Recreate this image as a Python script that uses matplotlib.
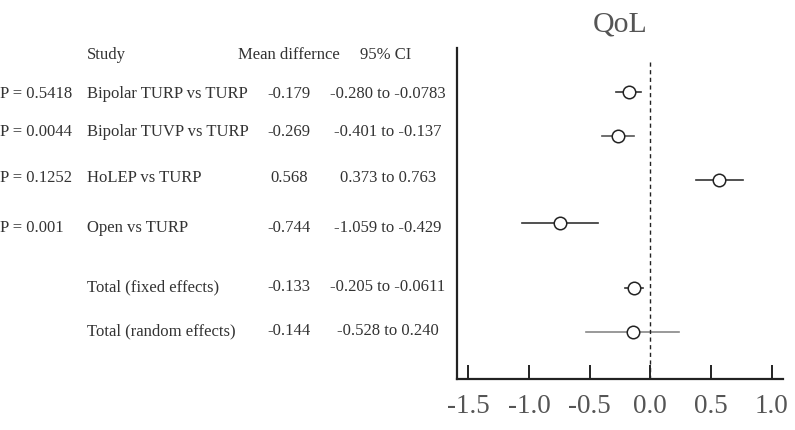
import matplotlib.pyplot as plt
from matplotlib.transforms import blended_transform_factory

# forest plot data
p_values = ["P = 0.5418", "P = 0.0044", "P = 0.1252", "P = 0.001", "", ""]
studies = ["Bipolar TURP vs TURP", "Bipolar TUVP vs TURP", "HoLEP vs TURP",
           "Open vs TURP", "Total (fixed effects)", "Total (random effects)"]
mean_diff = [-0.179, -0.269, 0.568, -0.744, -0.133, -0.144]
ci_low = [-0.280, -0.401, 0.373, -1.059, -0.205, -0.528]
ci_high = [-0.0783, -0.137, 0.763, -0.429, -0.0611, 0.240]
ci_text = ["-0.280 to -0.0783", "-0.401 to -0.137", "0.373 to 0.763",
           "-1.059 to -0.429", "-0.205 to -0.0611", "-0.528 to 0.240"]
mean_text = ["-0.179", "-0.269", "0.568", "-0.744", "-0.133", "-0.144"]
xticks = [-1.5, -1.0, -0.5, 0.0, 0.5, 1.0]

plt.rcParams['font.family'] = ['Liberation Serif', 'DejaVu Serif']
plt.rcParams['axes.unicode_minus'] = False

W, H = 795, 430
fig = plt.figure(figsize=(W / 100, H / 100), dpi=100)
# axes placed in pixel units: left 457, right 783, top 48, bottom 379
ax = fig.add_axes([457 / W, (H - 379) / H, 326 / W, 331 / H])

# vertical layout of the rows (pixels from top)
row_y = [92, 136, 180, 223, 288, 332]
text_y = [94, 132, 178, 228, 287, 331]
line_colors = ['#333333', '#555555', '#333333', '#333333', '#333333', '#888888']

for i in range(len(studies)):
    ax.plot([ci_low[i], ci_high[i]], [row_y[i], row_y[i]], color=line_colors[i], lw=1.2, zorder=2)
    ax.plot(mean_diff[i], row_y[i], 'o', ms=9, mfc='white', mec='#222222', mew=1.1, zorder=3)

ax.vlines(0, 62, 379, colors='#222222', linestyles=(0, (3, 2.5)), lw=1)

ax.set_xlim(-1.593, 1.093)
ax.set_ylim(379, 48)
ax.set_xticks(xticks)
ax.set_xticklabels([f"{t:.1f}" for t in xticks])
ax.set_yticks([])
for s in ['top', 'right']:
    ax.spines[s].set_visible(False)
for s in ['left', 'bottom']:
    ax.spines[s].set_linewidth(1.6)
    ax.spines[s].set_color('#222222')
ax.tick_params(axis='x', direction='in', length=10, width=1.4, pad=11,
               labelsize=19.5, labelcolor='#555555', color='#222222')
ax.set_title("QoL", fontsize=21.5, color='#555555', pad=12)

# table text on the left
tr = blended_transform_factory(fig.transFigure, ax.transData)
txt = dict(fontsize=12, color='#333333', va='center', transform=tr)
ax.text(87 / W, 55, "Study", ha='left', **txt)
ax.text(289 / W, 55, "Mean differnce", ha='center', **txt)
ax.text(386 / W, 55, "95% CI", ha='center', **txt)
for i in range(len(studies)):
    ax.text(0 / W, text_y[i], p_values[i], ha='left', **txt)
    ax.text(87 / W, text_y[i], studies[i], ha='left', **txt)
    ax.text(289 / W, text_y[i], mean_text[i], ha='center', **txt)
    ax.text(388 / W, text_y[i], ci_text[i], ha='center', **txt)

fig.savefig('out.png', dpi=100)
